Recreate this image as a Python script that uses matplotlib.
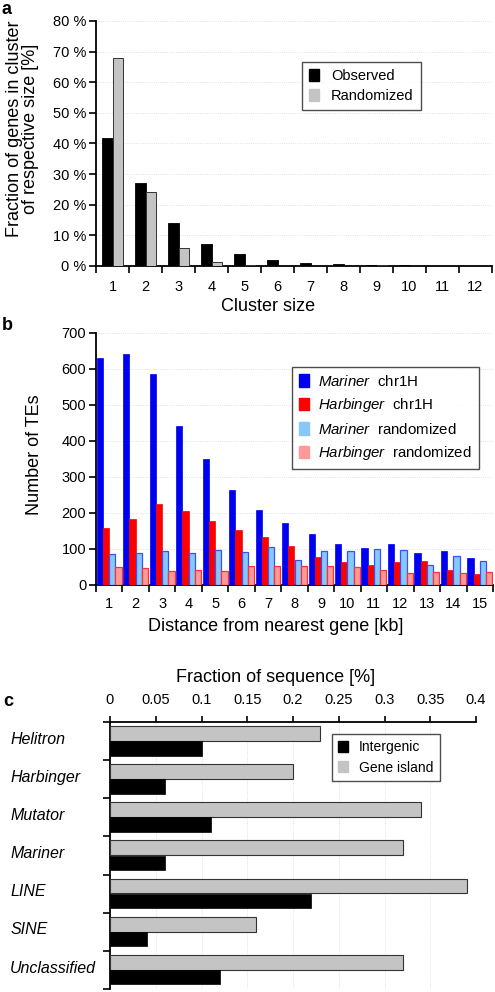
import numpy as np
import matplotlib
matplotlib.use("Agg")
import matplotlib.pyplot as plt
from matplotlib.ticker import FixedLocator, NullFormatter

# panel a: cluster sizes
cluster_sizes = [str(i) for i in range(1, 13)]
observed = [41.7, 27.0, 13.9, 7.2, 3.9, 1.9, 1.1, 0.5, 0.2, 0.4, 0.1, 0.1]
randomized = [68.0, 24.2, 6.0, 1.3, 0.2, 0.1, 0.05, 0.05, 0.3, 0.05, 0.0, 0.0]

# panel b: distance from nearest gene
distances = [str(i) for i in range(1, 16)]
mariner_chr = [630, 642, 586, 443, 349, 264, 208, 171, 142, 114, 103, 114, 90, 95, 74]
harbinger_chr = [158, 183, 226, 206, 179, 153, 132, 108, 79, 63, 56, 63, 68, 43, 31]
mariner_rand = [85, 90, 94, 90, 97, 92, 106, 69, 94, 94, 99, 97, 56, 81, 68]
harbinger_rand = [50, 47, 39, 43, 40, 52, 54, 52, 54, 50, 43, 34, 35, 34, 36]

# panel c: fraction of sequence
te_classes = ["Helitron", "Harbinger", "Mutator", "Mariner", "LINE", "SINE", "Unclassified"]
intergenic = [0.10, 0.06, 0.11, 0.06, 0.22, 0.04, 0.12]
gene_island = [0.23, 0.20, 0.34, 0.32, 0.39, 0.16, 0.32]

plt.rcParams["font.family"] = ["Liberation Sans", "DejaVu Sans"]
plt.rcParams["mathtext.fontset"] = "custom"
plt.rcParams["mathtext.rm"] = "Liberation Sans"
plt.rcParams["mathtext.it"] = "Liberation Sans:italic"

W, H = 495, 992
fig = plt.figure(figsize=(W / 100, H / 100), dpi=100)


def box(l, t, r, b):
    return [l / W, 1 - b / H, (r - l) / W, (b - t) / H]


grid_kw = dict(color="#d8d8d8", linestyle=":", linewidth=0.6)


def style_legend(leg):
    leg.get_frame().set_edgecolor("#222222")
    leg.get_frame().set_linewidth(1.0)


# ---------- a ----------
ax = fig.add_axes(box(96, 21, 492, 266))
x = np.arange(1, 13)
ax.bar(x - 0.165, observed, 0.33, color="black", edgecolor="black", linewidth=0.6, zorder=3)
ax.bar(x + 0.165, randomized, 0.33, color="#c4c4c4", edgecolor="#333333", linewidth=0.7, zorder=3)
ax.set_xlim(0.5, 12.5)
ax.set_ylim(0, 80)
ax.set_yticks(range(0, 81, 10))
ax.set_yticklabels([f"{v} %" for v in range(0, 81, 10)], fontsize=10.5)
ax.set_xticks(x)
ax.set_xticklabels(cluster_sizes, fontsize=10.5)
ax.xaxis.set_minor_locator(FixedLocator(np.arange(0.5, 13, 1)))
ax.tick_params(axis="x", which="major", length=0, pad=10)
ax.tick_params(axis="x", which="minor", length=5, width=1.2, direction="out")
ax.tick_params(axis="y", length=5, width=1.2, pad=2)
for s in ["top", "right"]:
    ax.spines[s].set_visible(False)
for s in ["left", "bottom"]:
    ax.spines[s].set_linewidth(1.3)
ax.yaxis.grid(True, **grid_kw)
ax.set_axisbelow(True)
ax.set_xlabel("Cluster size", fontsize=13)
ax.xaxis.set_label_coords(0.434, -0.131)
ax.set_ylabel("Fraction of genes in cluster\nof respective size [%]", fontsize=13, linespacing=0.95)
ax.yaxis.set_label_coords(-0.143, 0.56)
handles_a = [plt.Rectangle((0, 0), 1, 1, color="black"), plt.Rectangle((0, 0), 1, 1, color="#c4c4c4")]
leg = ax.legend(handles_a, ["Observed", "Randomized"], loc="upper left", bbox_to_anchor=(0.52, 0.833),
                borderaxespad=0, frameon=True, fancybox=False, fontsize=10.5,
                handlelength=0.7, handleheight=0.9, handletextpad=0.8, borderpad=0.5, labelspacing=0.4)
style_legend(leg)
fig.text(2 / W, 1 - 9 / H, "a", fontsize=13, fontweight="bold", va="center")

# ---------- b ----------
ax = fig.add_axes(box(96, 333, 493, 585))
x = np.arange(1, 16)
w = 0.235
colors_b = ["#0000f0", "#ff0000", "#86c8fa", "#ff9a9a"]
ax.bar(x - 1.5 * w, mariner_chr, w, color=colors_b[0], edgecolor=colors_b[0], linewidth=0.5, zorder=3)
ax.bar(x - 0.5 * w, harbinger_chr, w, color=colors_b[1], edgecolor=colors_b[1], linewidth=0.5, zorder=3)
ax.bar(x + 0.5 * w, mariner_rand, w, color=colors_b[2], edgecolor="#3a50ff", linewidth=0.9, zorder=3)
ax.bar(x + 1.5 * w, harbinger_rand, w, color=colors_b[3], edgecolor="#ff3030", linewidth=0.9, zorder=3)
ax.set_xlim(0.5, 15.5)
ax.set_ylim(0, 700)
ax.set_yticks(range(0, 701, 100))
ax.set_xticks(x)
ax.set_xticklabels(distances)
ax.xaxis.set_minor_locator(FixedLocator(np.arange(0.5, 16, 1)))
ax.tick_params(axis="x", which="major", length=0, pad=9, labelsize=10.5)
ax.tick_params(axis="x", which="minor", length=5, width=1.2, direction="out")
ax.tick_params(axis="y", length=5, width=1.2, pad=2, labelsize=10.5)
for s in ["top", "right"]:
    ax.spines[s].set_visible(False)
for s in ["left", "bottom"]:
    ax.spines[s].set_linewidth(1.3)
ax.yaxis.grid(True, **grid_kw)
ax.set_axisbelow(True)
ax.set_xlabel("Distance from nearest gene [kb]", fontsize=13)
ax.xaxis.set_label_coords(0.453, -0.131)
ax.set_ylabel("Number of TEs", fontsize=13)
ax.yaxis.set_label_coords(-0.134, 0.516)
labels_b = [r"$\it{Mariner}$  chr1H", r"$\it{Harbinger}$  chr1H",
            r"$\it{Mariner}$  randomized", r"$\it{Harbinger}$  randomized"]
handles = [plt.Rectangle((0, 0), 1, 1, color=c) for c in colors_b]
leg = ax.legend(handles, labels_b, loc="upper left", bbox_to_anchor=(0.494, 0.865), borderaxespad=0,
                frameon=True, fancybox=False, fontsize=10.8, handlelength=0.7, handleheight=0.9,
                handletextpad=0.6, borderpad=0.45, labelspacing=0.5)
style_legend(leg)
fig.text(2 / W, 1 - 326 / H, "b", fontsize=13, fontweight="bold", va="center")

# ---------- c ----------
ax = fig.add_axes(box(110, 722, 476, 989))
y = np.arange(len(te_classes))
ax.barh(y - 0.2, gene_island, 0.39, color="#c4c4c4", edgecolor="#333333", linewidth=0.8, zorder=3)
ax.barh(y + 0.19, intergenic, 0.38, color="black", edgecolor="black", linewidth=0.5, zorder=3)
ax.set_ylim(len(te_classes) - 0.5, -0.5)
ax.set_xlim(0, 0.4)
ax.xaxis.tick_top()
ax.xaxis.set_label_position("top")
ticks_c = [0, 0.05, 0.1, 0.15, 0.2, 0.25, 0.3, 0.35, 0.4]
ax.set_xticks(ticks_c)
ax.set_xticklabels(["0", "0.05", "0.1", "0.15", "0.2", "0.25", "0.3", "0.35", "0.4"], fontsize=10.5)
ax.tick_params(axis="x", length=4, width=1.2, pad=7)
ax.set_yticks(y)
ax.set_yticklabels([])
ax.yaxis.set_minor_locator(FixedLocator(np.arange(-0.5, len(te_classes), 1)))
ax.yaxis.set_minor_formatter(NullFormatter())
ax.tick_params(axis="y", which="major", length=0)
ax.tick_params(axis="y", which="minor", length=5, width=1.2)
for yi, name in zip(y, te_classes):
    ax.text(-0.273, yi - 0.05, name, fontsize=11.5, style="italic",
            ha="left", va="center", transform=ax.get_yaxis_transform(), clip_on=False)
for s in ["bottom", "right"]:
    ax.spines[s].set_visible(False)
for s in ["left", "top"]:
    ax.spines[s].set_linewidth(1.3)
ax.xaxis.grid(True, **grid_kw)
ax.set_axisbelow(True)
ax.set_xlabel("Fraction of sequence [%]", fontsize=13)
ax.xaxis.set_label_coords(0.451, 1.15)
handles_c = [plt.Rectangle((0, 0), 1, 1, color="black"), plt.Rectangle((0, 0), 1, 1, color="#c4c4c4")]
leg = ax.legend(handles_c, ["Intergenic", "Gene island"], loc="upper left",
                bbox_to_anchor=(0.607, 0.955), borderaxespad=0, frameon=True, fancybox=False,
                fontsize=10, handlelength=0.7, handleheight=0.9,
                handletextpad=0.8, borderpad=0.45, labelspacing=0.45)
style_legend(leg)
fig.text(3 / W, 1 - 702 / H, "c", fontsize=13, fontweight="bold", va="center")

fig.savefig("out.png", dpi=100)
